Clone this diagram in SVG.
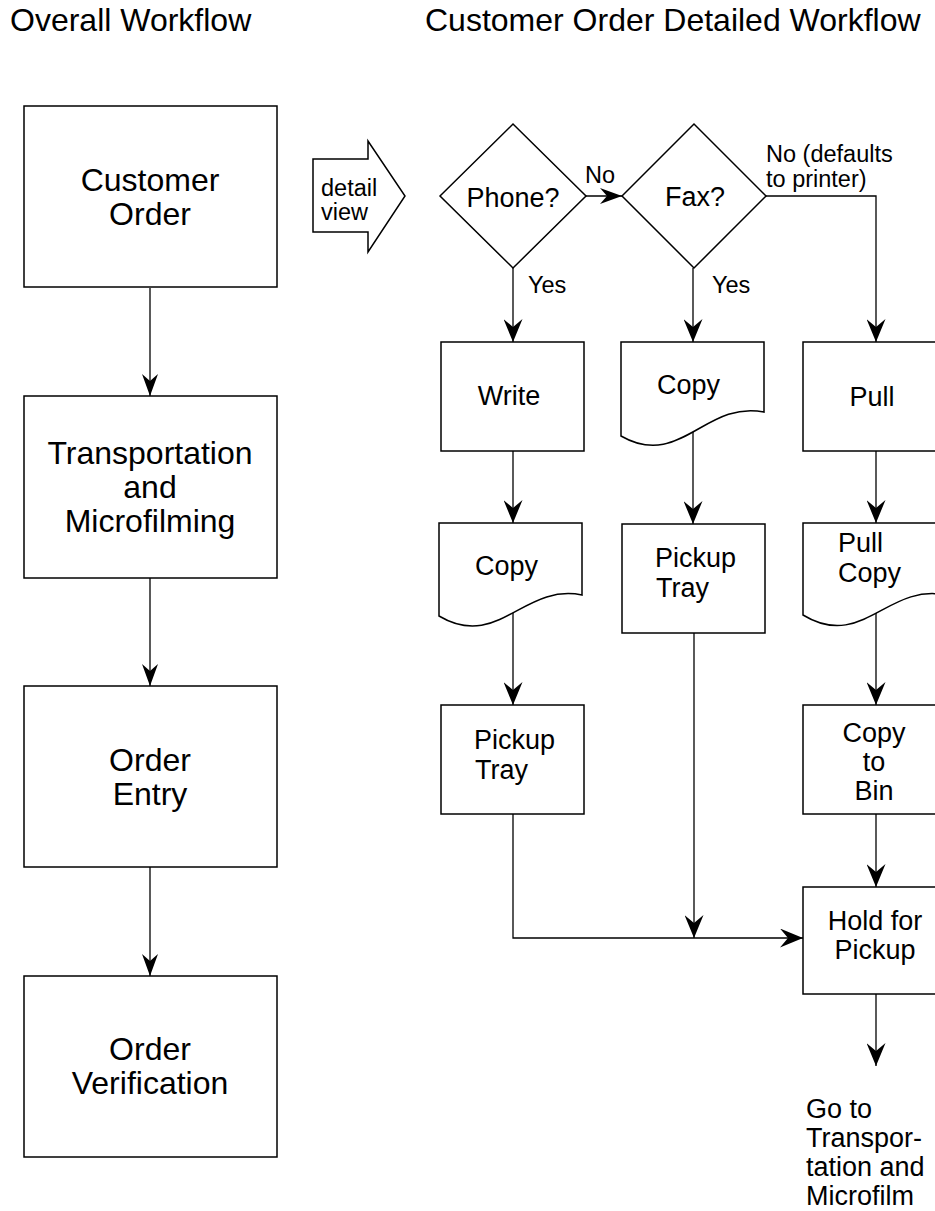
<svg xmlns="http://www.w3.org/2000/svg" width="935" height="1211" viewBox="0 0 935 1211">
<style>
text{font-family:"Liberation Sans",Arial,sans-serif;fill:#000}
.t{font-size:32px}
.big{font-size:32px;text-anchor:middle}
.mid{font-size:27px}
.c{text-anchor:middle}
.lab{font-size:23.5px}
.box{fill:#fff;stroke:#000;stroke-width:1.5}
.ln{fill:none;stroke:#000;stroke-width:1.3}
.ar{marker-end:url(#ah)}
.al{marker-end:url(#ahs)}
</style>
<defs>
<marker id="ah" viewBox="0 0 23 19" refX="23" refY="9.5" markerWidth="23" markerHeight="19" orient="auto" markerUnits="userSpaceOnUse"><path d="M0,0 L23,9.5 L0,19 L8,9.5 Z" fill="#000"/></marker>
<marker id="ahs" viewBox="0 0 22 16" refX="22" refY="8" markerWidth="22" markerHeight="16" orient="auto" markerUnits="userSpaceOnUse"><path d="M0,0 L22,8 L0,16 L7,8 Z" fill="#000"/></marker>
</defs>
<rect width="935" height="1211" fill="#fff"/>
<text class="t" x="10" y="31">Overall Workflow</text>
<text class="t" x="425" y="31">Customer Order Detailed Workflow</text>

<g id="connectors">
<path class="ln al" d="M150,288 V396"/>
<path class="ln al" d="M150,578 V686"/>
<path class="ln al" d="M150,867 V976"/>
<path class="ln al" d="M586,196 H622"/>
<path class="ln ar" d="M513,268 V342"/>
<path class="ln ar" d="M693,268 V342"/>
<path class="ln ar" d="M766,196 H876 V342"/>
<path class="ln ar" d="M513,451 V523"/>
<path class="ln ar" d="M693,432 V524"/>
<path class="ln ar" d="M513,612 V705"/>
<path class="ln ar" d="M876,451 V523"/>
<path class="ln ar" d="M876,610 V705"/>
<path class="ln ar" d="M876,814 V887"/>
<path class="ln ar" d="M513,814 V938 H803"/>
<path class="ln ar" d="M694,633 V938"/>
<path class="ln ar" d="M876,994 V1066"/>
<text class="lab" x="585" y="183">No</text>
<text class="lab" x="766" y="162">No (defaults</text>
<text class="lab" x="766" y="187">to printer)</text>
<text class="lab" x="528" y="293">Yes</text>
<text class="lab" x="712" y="293">Yes</text>
</g>

<g id="customer-order"><rect class="box" x="24" y="106" width="253" height="181"/><text class="big" x="150" y="191">Customer</text><text class="big" x="150" y="225">Order</text></g>
<g id="transportation"><rect class="box" x="24" y="396" width="253" height="182"/><text class="big" x="150" y="464">Transportation</text><text class="big" x="150" y="498">and</text><text class="big" x="150" y="532">Microfilming</text></g>
<g id="order-entry"><rect class="box" x="24" y="686" width="253" height="181"/><text class="big" x="150" y="771">Order</text><text class="big" x="150" y="805">Entry</text></g>
<g id="order-verification"><rect class="box" x="24" y="976" width="253" height="181"/><text class="big" x="150" y="1060">Order</text><text class="big" x="150" y="1094">Verification</text></g>

<g id="detail-view"><polygon class="box" points="313,159 368,159 368,141 405,196 368,252 368,232 313,232"/><text class="lab" x="321" y="196">detail</text><text class="lab" x="321" y="220">view</text></g>

<g id="phone"><polygon class="box" points="440,196 513,124 586,196 513,268"/><text class="mid c" x="513" y="207">Phone?</text></g>
<g id="fax"><polygon class="box" points="622,196 694,124 766,196 694,268"/><text class="mid c" x="695" y="206">Fax?</text></g>

<g id="write"><rect class="box" x="441" y="342" width="143" height="109"/><text class="mid c" x="509" y="405">Write</text></g>
<g id="copy-fax"><path class="box" d="M621,342 H764 V412 C705,400 680,470 621,436 Z"/><text class="mid" x="657" y="394">Copy</text></g>
<g id="pull"><rect class="box" x="803" y="342" width="143" height="109"/><text class="mid c" x="872" y="406">Pull</text></g>

<g id="copy-phone"><path class="box" d="M439,523 H582 V595 C523,583 498,651 439,616 Z"/><text class="mid" x="475" y="575">Copy</text></g>
<g id="pickup-fax"><rect class="box" x="622" y="524" width="143" height="109"/><text class="mid" x="655" y="567">Pickup</text><text class="mid" x="656" y="597">Tray</text></g>
<g id="pull-copy"><path class="box" d="M803,523 H946 V595 C887,583 862,651 803,615 Z"/><text class="mid" x="838" y="552">Pull</text><text class="mid" x="838" y="582">Copy</text></g>

<g id="pickup-phone"><rect class="box" x="441" y="705" width="143" height="109"/><text class="mid" x="474" y="749">Pickup</text><text class="mid" x="475" y="779">Tray</text></g>
<g id="copy-to-bin"><rect class="box" x="803" y="705" width="143" height="109"/><text class="mid c" x="874" y="742">Copy</text><text class="mid c" x="874" y="771">to</text><text class="mid c" x="874" y="800">Bin</text></g>
<g id="hold"><rect class="box" x="803" y="887" width="143" height="107"/><text class="mid c" x="875" y="930">Hold for</text><text class="mid c" x="875" y="959">Pickup</text></g>

<g id="go-to"><text class="mid" x="806" y="1118">Go to</text><text class="mid" x="806" y="1147">Transpor-</text><text class="mid" x="806" y="1176">tation and</text><text class="mid" x="806" y="1205">Microfilm</text></g>
</svg>
